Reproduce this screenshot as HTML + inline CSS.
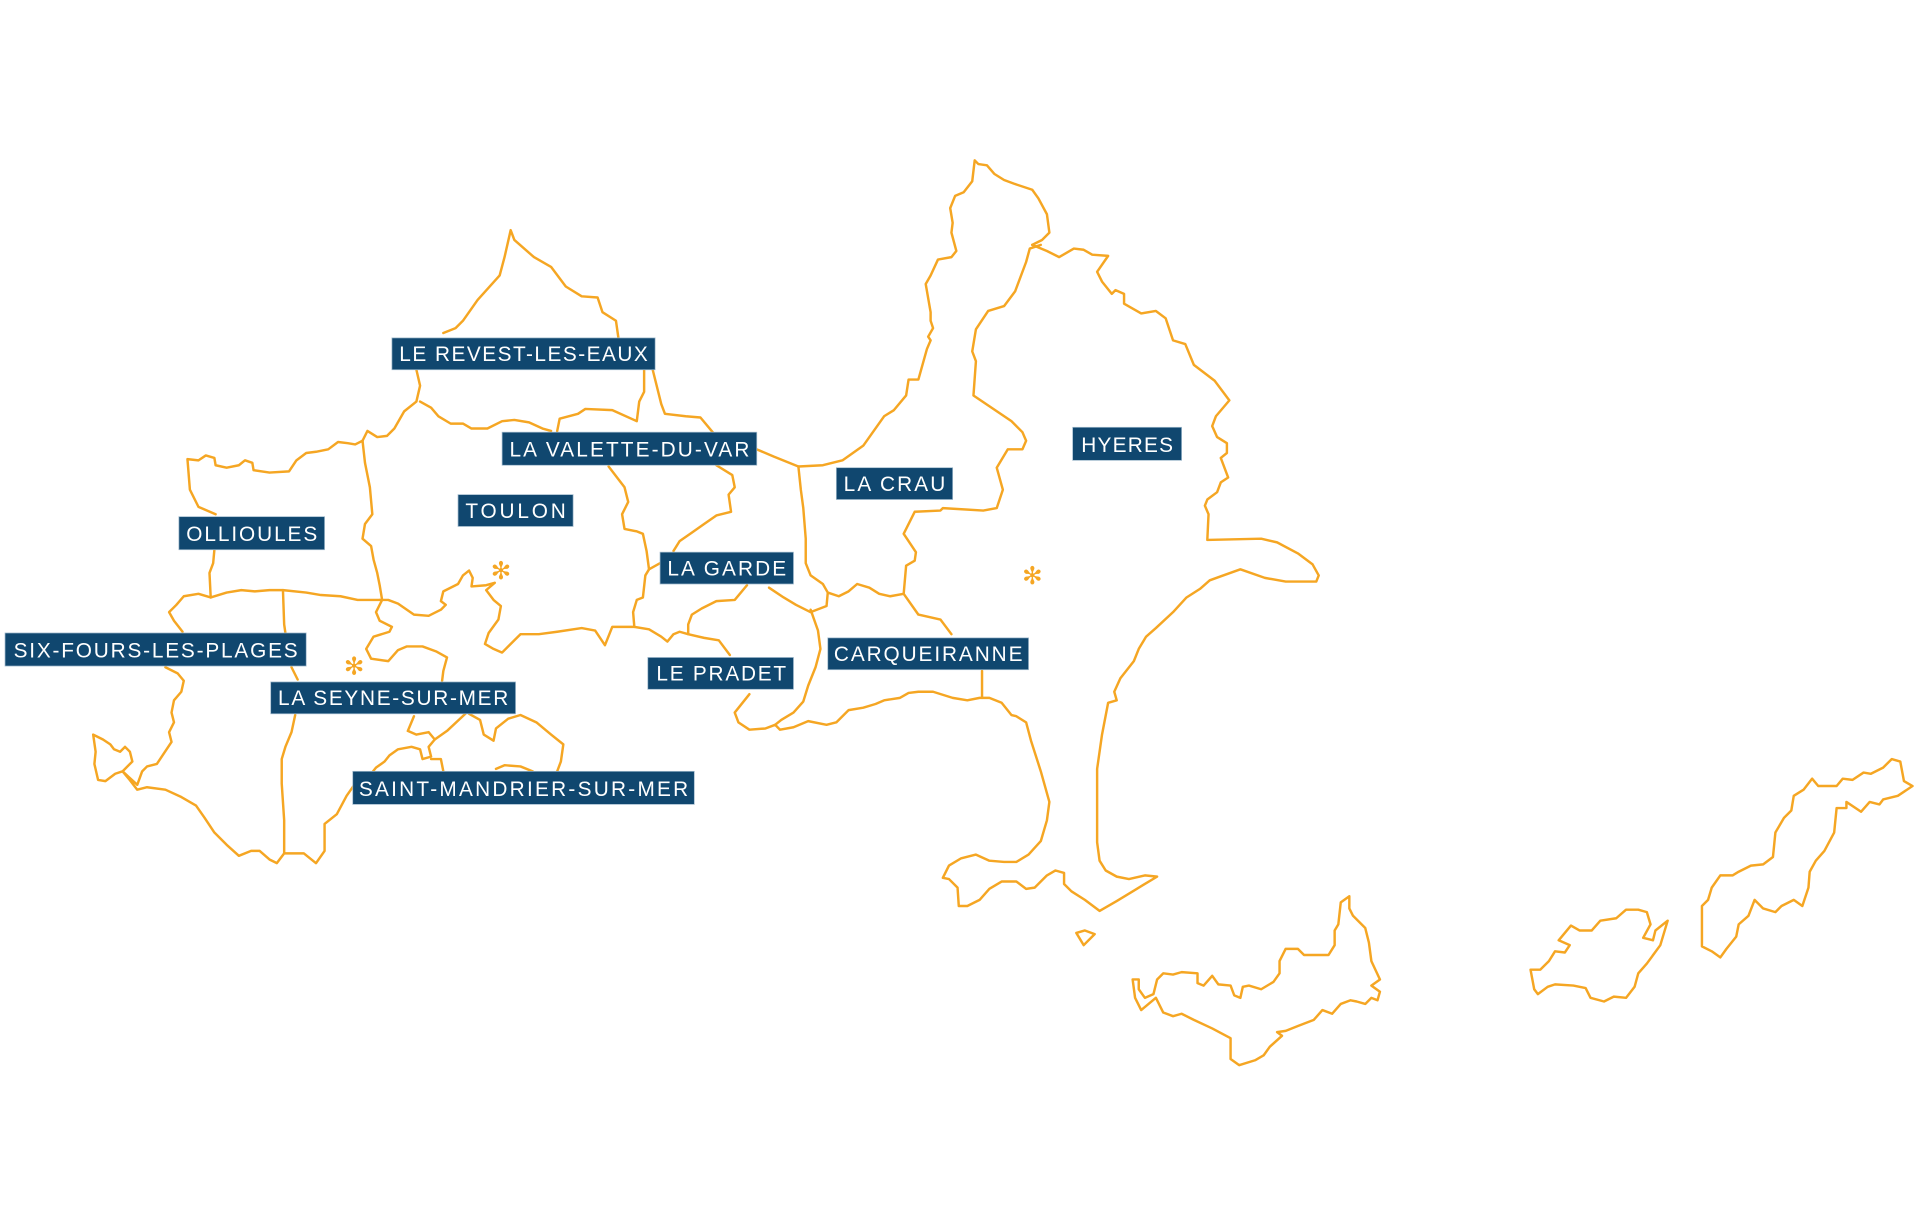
<!DOCTYPE html>
<html><head><meta charset="utf-8"><style>
html,body{margin:0;padding:0;background:#fff;}
svg{display:block;}
.l{fill:none;stroke:#f5a623;stroke-width:2;stroke-linejoin:round;stroke-linecap:round;}
.b{fill:#10476f;stroke:#9fb9cc;stroke-width:0.6;}
.t{fill:#fff;font-family:"Liberation Sans",sans-serif;font-size:17px;}
.s{fill:#f5a623;font-family:"DejaVu Sans",sans-serif;font-size:20px;font-weight:bold;}
</style></head><body>
<svg width="1920" height="1228" viewBox="0 0 1568 1003" xmlns="http://www.w3.org/2000/svg">
<g class="l">
<polyline points="362,272 372,268 378,262 390,245 408,225 412,210 417,188 420,196 436,210 450,218 462,234 475,242 488,243 492,255 503,262 505,276"/>
<polyline points="340,302 343,315 340,328 330,336 322,350 316,356 308,357 300,352 296,360"/>
<polyline points="343,328 352,333 358,340 368,346 378,346 385,350 398,350 410,344 420,343 432,345 443,350 450,352"/>
<polyline points="455,352 457,342 472,338 478,334 500,335 520,344 522,328 526,320 526,302"/>
<polyline points="533,302 540,330 543,338 560,340 572,341 582,353"/>
<polyline points="618,367 632,373 652,381 672,380 688,376 705,364 722,340 730,335 740,323 742,310 750,310 757,285 760,278 758,275 762,268 760,262 760,255 756,232 760,225 766,212 777,210 781,205 777,190 778,182 776,170 780,160 787,157 794,148 796,131 799,134 806,135 812,142 820,147 828,150 843,155 848,162 855,175 857,190 851,196 843,200"/>
<polyline points="850,200 841,203 838,214 829,238 820,250 807,254 797,269 794,287 797,295 795,323 826,344 835,353 838,360 835,367 823,367 814,382 819,400 814,415 803,417 770,415 768,417 747,418 738,436 744,445 748,451 747,458 740,462 738,485 750,502 768,506 777,518"/>
<polyline points="843,200 855,205 865,210 877,203 885,204 892,208 905,209 896,222 900,230 908,240 911,237 918,240 918,248 932,256 944,254 952,260 958,278 968,281 975,298 992,311 1004,327 993,340 990,348 994,357 1002,362 1002,370 997,374 1003,390 997,394 994,402 986,408 984,413 987,420 986,441 1030,440 1043,443 1060,452 1072,461 1077,470 1075,475 1050,475 1033,472 1013,465 999,470 988,474 980,481 969,488 958,500 944,513 936,520 930,530 926,540 915,554 910,565 912,572 905,574 900,600 896,628 896,688 898,703 903,711 912,716 922,718 935,715 945,716 935,722 912,736 898,744 886,735 875,728 869,722 869,713 862,711 855,715 845,725 838,726 830,720 818,720 808,726 800,735 790,740 783,740 782,725 775,718 770,717 775,707 785,701 797,698 808,703 820,704 830,704 840,698 850,687 855,670 857,655 850,630 842,605 838,590 830,585 826,584 818,574 808,570 800,570 790,572 778,570 762,565 750,565 742,566 735,570 722,572 715,575 705,578 693,580 683,590 675,592 660,589 648,594 637,596 633,592 625,595 612,596 603,590 600,582 604,577 612,567"/>
<polyline points="802,548 802,570"/>
<polyline points="662,498 668,515 670,530 666,545 660,560 656,573 648,582 638,588 633,592"/>
<polyline points="652,381 654,400 656,415 658,440 658,460 662,470 672,477 676,484 685,487 693,483 700,477 710,480 718,485 727,487 738,485"/>
<polyline points="676,484 675,495 662,500 650,494 640,488 628,480"/>
<polyline points="610,478 600,490 585,491 573,497 565,502 562,510 562,518 575,521 587,523 596,535"/>
<polyline points="585,380 598,388 600,398 595,404 597,418 585,421 575,428 565,435 555,442 550,450"/>
<polyline points="497,381 510,398 513,410 508,420 510,432 520,434 525,436 528,450 530,465 539,460"/>
<polyline points="530,465 527,470 525,488 520,490 517,500 518,512 530,514 540,520 545,524 550,518 555,516 562,518"/>
<polyline points="518,512 500,512 494,527 486,515 475,513 455,516 440,518 425,518 418,525 410,533 403,530 396,526 399,517 407,506 409,495 403,490 397,482 404,476 397,478 385,479 386,472 383,466 378,470 374,477 362,483 360,491 364,494 360,498 350,503 338,502 325,493 317,490 310,490"/>
<polyline points="312,490 307,500 310,507 320,512 318,516 305,520 299,530 303,538 317,540 325,531 332,528 345,528 356,532 365,537 362,548 361,556"/>
<polyline points="296,360 298,378 302,398 304,420 298,428 296,440 303,446 305,457 308,468 310,478 312,490"/>
<polyline points="176,420 162,414 155,400 153,375 162,376 168,372 175,374 176,380 185,382 195,380 200,376 206,378 207,384 220,386 236,385 242,376 250,370 258,369 268,367 276,361 284,362 290,363 296,360"/>
<polyline points="175,449 174,460 171,468 172,488 185,484 197,482 208,483 220,482 231,482 250,484 262,486 278,487 292,490 310,490"/>
<polyline points="172,488 162,485 150,487 144,494 138,500 142,507 149,516"/>
<polyline points="135,545 145,550 150,556 148,565 142,572 140,582 142,590 138,598 140,606 134,615 128,624 120,626 116,630 112,641 100,630 108,622 106,614 102,610 98,614 93,612 90,608 84,604 76,600 78,614 77,624 80,637 86,638 94,632 100,630 105,636 112,645 120,643 135,645 148,651 160,658 167,668 175,680 185,690 195,699 205,695 212,695 220,702 226,705 232,697 248,697 258,705 265,695 265,673 275,665 283,650 290,640"/>
<polyline points="231,482 232,510 233,517"/>
<polyline points="238,545 243,555"/>
<polyline points="241,584 238,598 233,610 230,620 230,640 232,670 232,697"/>
<polyline points="380,583 365,597 355,604 350,610 352,618 345,620 343,612 336,610 325,612 318,617 314,622 307,627 303,632"/>
<polyline points="338,585 333,597 340,600 350,598 355,604"/>
<polyline points="352,620 360,620 362,630"/>
<polyline points="383,583 392,588 395,600 403,605 405,595 415,587 425,584 438,590 450,600 460,608 458,622 455,630"/>
<polyline points="405,628 412,625 425,626 435,630"/>
<polygon points="879,762 886,760 894,763 885,772"/>
<polygon points="925,800 927,815 932,825 938,820 944,815 950,827 958,830 965,828 975,833 990,840 1005,848 1005,865 1012,870 1025,866 1032,862 1037,855 1047,846 1043,843 1050,842 1060,838 1073,833 1080,825 1088,828 1095,820 1103,817 1108,818 1115,820 1120,815 1125,817 1127,810 1120,805 1127,800 1120,785 1118,770 1115,758 1105,748 1102,742 1102,732 1095,737 1093,755 1090,760 1090,772 1085,780 1065,780 1060,775 1050,775 1045,785 1045,795 1040,802 1030,808 1020,805 1015,806 1013,815 1008,813 1005,805 995,804 990,797 983,805 978,803 978,795 965,794 958,796 950,795 945,800 942,812 935,815 930,808 930,800"/>
<polygon points="1250,792 1253,808 1256,812 1264,806 1270,804 1285,805 1295,807 1299,815 1310,818 1318,814 1328,815 1335,806 1338,795 1345,787 1356,772 1362,752 1352,760 1350,768 1342,766 1348,755 1345,745 1338,743 1328,743 1320,750 1307,752 1300,760 1290,760 1283,756 1273,768 1282,772 1278,778 1270,777 1265,785 1258,792"/>
<polygon points="1390,773 1398,777 1405,782 1410,775 1418,765 1420,755 1428,748 1433,735 1440,742 1450,745 1455,740 1465,735 1472,740 1477,725 1478,712 1483,703 1490,695 1498,680 1500,660 1508,660 1508,655 1520,663 1527,655 1535,657 1538,653 1550,650 1562,642 1555,638 1552,622 1545,620 1538,627 1528,632 1522,631 1513,637 1505,636 1500,642 1485,642 1480,636 1473,645 1465,650 1463,662 1457,668 1450,680 1448,700 1440,706 1430,707 1420,712 1415,715 1405,715 1398,725 1395,735 1390,740"/>
</g>
<text class="s" x="409" y="473" text-anchor="middle">✻</text>
<text class="s" x="289" y="551" text-anchor="middle">✻</text>
<text class="s" x="843" y="477" text-anchor="middle">✻</text>
<g>
<rect class="b" x="320" y="276" width="215" height="26"/><text class="t" x="326" y="295" textLength="203" lengthAdjust="spacing">LE REVEST-LES-EAUX</text>
<rect class="b" x="410" y="353" width="208" height="27"/><text class="t" x="416" y="373" textLength="196" lengthAdjust="spacing">LA VALETTE-DU-VAR</text>
<rect class="b" x="374" y="404" width="94" height="26"/><text class="t" x="380" y="423" textLength="82" lengthAdjust="spacing">TOULON</text>
<rect class="b" x="146" y="422" width="119" height="27"/><text class="t" x="152" y="442" textLength="107" lengthAdjust="spacing">OLLIOULES</text>
<rect class="b" x="539" y="451" width="109" height="26"/><text class="t" x="545" y="470" textLength="97" lengthAdjust="spacing">LA GARDE</text>
<rect class="b" x="4" y="517" width="246" height="27"/><text class="t" x="11" y="537" textLength="232" lengthAdjust="spacing">SIX-FOURS-LES-PLAGES</text>
<rect class="b" x="221" y="557" width="200" height="26"/><text class="t" x="227" y="576" textLength="188" lengthAdjust="spacing">LA SEYNE-SUR-MER</text>
<rect class="b" x="529" y="537" width="119" height="26"/><text class="t" x="536" y="556" textLength="106" lengthAdjust="spacing">LE PRADET</text>
<rect class="b" x="288" y="630" width="279" height="27"/><text class="t" x="293" y="650" textLength="269" lengthAdjust="spacing">SAINT-MANDRIER-SUR-MER</text>
<rect class="b" x="683" y="382" width="95" height="26"/><text class="t" x="689" y="401" textLength="83" lengthAdjust="spacing">LA CRAU</text>
<rect class="b" x="876" y="349" width="89" height="27"/><text class="t" x="883" y="369" textLength="75" lengthAdjust="spacing">HYERES</text>
<rect class="b" x="676" y="521" width="164" height="26"/><text class="t" x="681" y="540" textLength="154" lengthAdjust="spacing">CARQUEIRANNE</text>
</g>
</svg>
</body></html>
